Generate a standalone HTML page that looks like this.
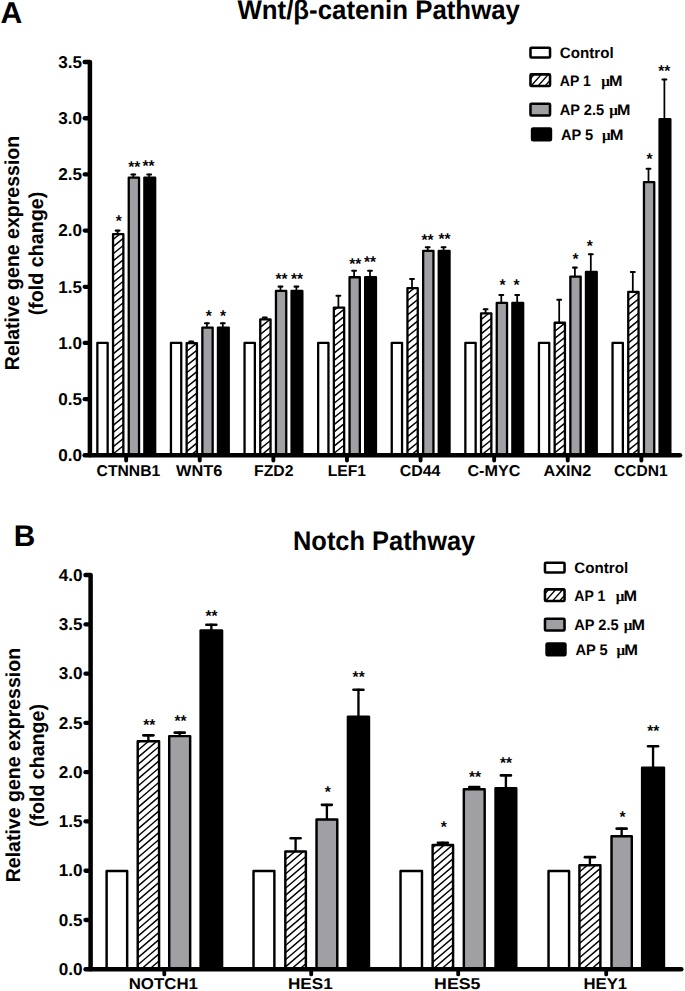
<!DOCTYPE html>
<html><head><meta charset="utf-8"><title>Figure</title>
<style>
html,body{margin:0;padding:0;background:#fff;}
body{width:685px;height:991px;overflow:hidden;font-family:"Liberation Sans",sans-serif;}
svg{display:block;}
text{text-rendering:geometricPrecision;}
.b{font-family:"Liberation Sans",sans-serif;font-weight:bold;fill:#000;}
.s{font-family:"Liberation Serif",serif;font-weight:bold;fill:#000;}
</style></head><body>
<svg width="685" height="991" viewBox="0 0 685 991">
<rect width="685" height="991" fill="#fff"/>

<g id="panelA">
<rect x="97.35" y="342.85" width="10.30" height="112.45" fill="#fff" stroke="#000" stroke-width="2.3" stroke-linejoin="round"/>
<path d="M115.68 230.62H119.53" stroke="#000" stroke-width="2.05" stroke-linecap="round" fill="none"/>
<rect x="116.73" y="229.90" width="1.75" height="4.40" fill="#000"/>
<rect x="113.05" y="234.15" width="10.30" height="221.15" fill="#fff" stroke="none"/>
<clipPath id="hc1"><rect x="113.05" y="234.15" width="10.30" height="221.15"/></clipPath>
<path d="M111.05 226.85L125.35 215.23M111.05 234.00L125.35 222.38M111.05 241.15L125.35 229.53M111.05 248.30L125.35 236.68M111.05 255.45L125.35 243.83M111.05 262.60L125.35 250.98M111.05 269.75L125.35 258.13M111.05 276.90L125.35 265.28M111.05 284.05L125.35 272.43M111.05 291.20L125.35 279.58M111.05 298.35L125.35 286.73M111.05 305.50L125.35 293.88M111.05 312.65L125.35 301.03M111.05 319.80L125.35 308.18M111.05 326.95L125.35 315.33M111.05 334.10L125.35 322.48M111.05 341.25L125.35 329.63M111.05 348.40L125.35 336.78M111.05 355.55L125.35 343.93M111.05 362.70L125.35 351.08M111.05 369.85L125.35 358.23M111.05 377.00L125.35 365.38M111.05 384.15L125.35 372.53M111.05 391.30L125.35 379.68M111.05 398.45L125.35 386.83M111.05 405.60L125.35 393.98M111.05 412.75L125.35 401.13M111.05 419.90L125.35 408.28M111.05 427.05L125.35 415.43M111.05 434.20L125.35 422.58M111.05 441.35L125.35 429.73M111.05 448.50L125.35 436.88M111.05 455.65L125.35 444.03M111.05 462.80L125.35 451.18M111.05 469.95L125.35 458.33M111.05 477.10L125.35 465.48" stroke="#000" stroke-width="1.45" fill="none" clip-path="url(#hc1)"/>
<rect x="113.05" y="234.15" width="10.30" height="221.15" fill="none" stroke="#000" stroke-width="2.3" stroke-linejoin="round"/>
<path d="M131.38 174.43H135.22" stroke="#000" stroke-width="2.05" stroke-linecap="round" fill="none"/>
<rect x="132.43" y="173.70" width="1.75" height="4.00" fill="#000"/>
<rect x="128.75" y="177.55" width="10.30" height="277.75" fill="#a09fa3" stroke="#000" stroke-width="2.3" stroke-linejoin="round"/>
<path d="M147.28 174.43H151.12" stroke="#000" stroke-width="2.05" stroke-linecap="round" fill="none"/>
<rect x="148.33" y="173.70" width="1.75" height="4.00" fill="#000"/>
<rect x="144.35" y="177.55" width="10.81" height="277.75" fill="#000" stroke="#000" stroke-width="2.3" stroke-linejoin="round"/>
<text x="118.80" y="226.00" font-size="15.5" text-anchor="middle" class="b">*</text>
<text x="134.35" y="172.00" font-size="15.5" text-anchor="middle" class="b">**</text>
<text x="148.60" y="171.20" font-size="15.5" text-anchor="middle" class="b">**</text>
<rect x="170.95" y="342.85" width="10.30" height="112.45" fill="#fff" stroke="#000" stroke-width="2.3" stroke-linejoin="round"/>
<path d="M189.28 341.52H193.12" stroke="#000" stroke-width="2.05" stroke-linecap="round" fill="none"/>
<rect x="190.33" y="340.80" width="1.75" height="2.50" fill="#000"/>
<rect x="186.65" y="343.15" width="10.30" height="112.15" fill="#fff" stroke="none"/>
<clipPath id="hc2"><rect x="186.65" y="343.15" width="10.30" height="112.15"/></clipPath>
<path d="M184.65 331.53L198.95 319.91M184.65 338.68L198.95 327.06M184.65 345.83L198.95 334.21M184.65 352.98L198.95 341.36M184.65 360.13L198.95 348.51M184.65 367.28L198.95 355.66M184.65 374.43L198.95 362.81M184.65 381.58L198.95 369.96M184.65 388.73L198.95 377.11M184.65 395.88L198.95 384.26M184.65 403.03L198.95 391.41M184.65 410.18L198.95 398.56M184.65 417.33L198.95 405.71M184.65 424.48L198.95 412.86M184.65 431.63L198.95 420.01M184.65 438.78L198.95 427.16M184.65 445.93L198.95 434.31M184.65 453.08L198.95 441.46M184.65 460.23L198.95 448.61M184.65 467.38L198.95 455.76M184.65 474.53L198.95 462.91" stroke="#000" stroke-width="1.45" fill="none" clip-path="url(#hc2)"/>
<rect x="186.65" y="343.15" width="10.30" height="112.15" fill="none" stroke="#000" stroke-width="2.3" stroke-linejoin="round"/>
<path d="M204.98 323.22H208.83" stroke="#000" stroke-width="2.05" stroke-linecap="round" fill="none"/>
<rect x="206.03" y="322.50" width="1.75" height="5.20" fill="#000"/>
<rect x="202.35" y="327.55" width="10.30" height="127.75" fill="#a09fa3" stroke="#000" stroke-width="2.3" stroke-linejoin="round"/>
<path d="M220.88 323.22H224.73" stroke="#000" stroke-width="2.05" stroke-linecap="round" fill="none"/>
<rect x="221.93" y="322.50" width="1.75" height="5.20" fill="#000"/>
<rect x="217.95" y="327.55" width="10.81" height="127.75" fill="#000" stroke="#000" stroke-width="2.3" stroke-linejoin="round"/>
<text x="208.65" y="321.00" font-size="15.5" text-anchor="middle" class="b">*</text>
<text x="222.90" y="321.00" font-size="15.5" text-anchor="middle" class="b">*</text>
<rect x="244.55" y="342.85" width="10.30" height="112.45" fill="#fff" stroke="#000" stroke-width="2.3" stroke-linejoin="round"/>
<path d="M262.87 317.62H266.72" stroke="#000" stroke-width="2.05" stroke-linecap="round" fill="none"/>
<rect x="263.92" y="316.90" width="1.75" height="2.70" fill="#000"/>
<rect x="260.25" y="319.45" width="10.30" height="135.85" fill="#fff" stroke="none"/>
<clipPath id="hc3"><rect x="260.25" y="319.45" width="10.30" height="135.85"/></clipPath>
<path d="M258.25 307.50L272.55 295.89M258.25 314.65L272.55 303.04M258.25 321.80L272.55 310.19M258.25 328.95L272.55 317.34M258.25 336.10L272.55 324.49M258.25 343.25L272.55 331.64M258.25 350.40L272.55 338.79M258.25 357.55L272.55 345.94M258.25 364.70L272.55 353.09M258.25 371.85L272.55 360.24M258.25 379.00L272.55 367.39M258.25 386.15L272.55 374.54M258.25 393.30L272.55 381.69M258.25 400.45L272.55 388.84M258.25 407.60L272.55 395.99M258.25 414.75L272.55 403.14M258.25 421.90L272.55 410.29M258.25 429.05L272.55 417.44M258.25 436.20L272.55 424.59M258.25 443.35L272.55 431.74M258.25 450.50L272.55 438.89M258.25 457.65L272.55 446.04M258.25 464.80L272.55 453.19M258.25 471.95L272.55 460.34M258.25 479.10L272.55 467.49" stroke="#000" stroke-width="1.45" fill="none" clip-path="url(#hc3)"/>
<rect x="260.25" y="319.45" width="10.30" height="135.85" fill="none" stroke="#000" stroke-width="2.3" stroke-linejoin="round"/>
<path d="M278.57 286.62H282.42" stroke="#000" stroke-width="2.05" stroke-linecap="round" fill="none"/>
<rect x="279.62" y="285.90" width="1.75" height="5.20" fill="#000"/>
<rect x="275.95" y="290.95" width="10.30" height="164.35" fill="#a09fa3" stroke="#000" stroke-width="2.3" stroke-linejoin="round"/>
<path d="M294.47 286.62H298.32" stroke="#000" stroke-width="2.05" stroke-linecap="round" fill="none"/>
<rect x="295.52" y="285.90" width="1.75" height="5.20" fill="#000"/>
<rect x="291.55" y="290.95" width="10.81" height="164.35" fill="#000" stroke="#000" stroke-width="2.3" stroke-linejoin="round"/>
<text x="281.50" y="283.90" font-size="15.5" text-anchor="middle" class="b">**</text>
<text x="297.05" y="283.90" font-size="15.5" text-anchor="middle" class="b">**</text>
<rect x="318.15" y="342.85" width="10.30" height="112.45" fill="#fff" stroke="#000" stroke-width="2.3" stroke-linejoin="round"/>
<path d="M336.47 295.82H340.32" stroke="#000" stroke-width="2.05" stroke-linecap="round" fill="none"/>
<rect x="337.52" y="295.10" width="1.75" height="12.60" fill="#000"/>
<rect x="333.85" y="307.55" width="10.30" height="147.75" fill="#fff" stroke="none"/>
<clipPath id="hc4"><rect x="333.85" y="307.55" width="10.30" height="147.75"/></clipPath>
<path d="M331.85 297.78L346.15 286.17M331.85 304.93L346.15 293.32M331.85 312.08L346.15 300.47M331.85 319.23L346.15 307.62M331.85 326.38L346.15 314.77M331.85 333.53L346.15 321.92M331.85 340.68L346.15 329.07M331.85 347.83L346.15 336.22M331.85 354.98L346.15 343.37M331.85 362.13L346.15 350.52M331.85 369.28L346.15 357.67M331.85 376.43L346.15 364.82M331.85 383.58L346.15 371.97M331.85 390.73L346.15 379.12M331.85 397.88L346.15 386.27M331.85 405.03L346.15 393.42M331.85 412.18L346.15 400.57M331.85 419.33L346.15 407.72M331.85 426.48L346.15 414.87M331.85 433.63L346.15 422.02M331.85 440.78L346.15 429.17M331.85 447.93L346.15 436.32M331.85 455.08L346.15 443.47M331.85 462.23L346.15 450.62M331.85 469.38L346.15 457.77M331.85 476.53L346.15 464.92" stroke="#000" stroke-width="1.45" fill="none" clip-path="url(#hc4)"/>
<rect x="333.85" y="307.55" width="10.30" height="147.75" fill="none" stroke="#000" stroke-width="2.3" stroke-linejoin="round"/>
<path d="M352.17 270.82H356.02" stroke="#000" stroke-width="2.05" stroke-linecap="round" fill="none"/>
<rect x="353.22" y="270.10" width="1.75" height="7.30" fill="#000"/>
<rect x="349.55" y="277.25" width="10.30" height="178.05" fill="#a09fa3" stroke="#000" stroke-width="2.3" stroke-linejoin="round"/>
<path d="M368.07 270.82H371.93" stroke="#000" stroke-width="2.05" stroke-linecap="round" fill="none"/>
<rect x="369.12" y="270.10" width="1.75" height="7.30" fill="#000"/>
<rect x="365.15" y="277.25" width="10.81" height="178.05" fill="#000" stroke="#000" stroke-width="2.3" stroke-linejoin="round"/>
<text x="355.20" y="268.60" font-size="15.5" text-anchor="middle" class="b">**</text>
<text x="370.10" y="267.40" font-size="15.5" text-anchor="middle" class="b">**</text>
<rect x="391.75" y="342.85" width="10.30" height="112.45" fill="#fff" stroke="#000" stroke-width="2.3" stroke-linejoin="round"/>
<path d="M410.07 279.02H413.92" stroke="#000" stroke-width="2.05" stroke-linecap="round" fill="none"/>
<rect x="411.12" y="278.30" width="1.75" height="10.00" fill="#000"/>
<rect x="407.45" y="288.15" width="10.30" height="167.15" fill="#fff" stroke="none"/>
<clipPath id="hc5"><rect x="407.45" y="288.15" width="10.30" height="167.15"/></clipPath>
<path d="M405.45 280.91L419.75 269.30M405.45 288.06L419.75 276.45M405.45 295.21L419.75 283.60M405.45 302.36L419.75 290.75M405.45 309.51L419.75 297.90M405.45 316.66L419.75 305.05M405.45 323.81L419.75 312.20M405.45 330.96L419.75 319.35M405.45 338.11L419.75 326.50M405.45 345.26L419.75 333.65M405.45 352.41L419.75 340.80M405.45 359.56L419.75 347.95M405.45 366.71L419.75 355.10M405.45 373.86L419.75 362.25M405.45 381.01L419.75 369.40M405.45 388.16L419.75 376.55M405.45 395.31L419.75 383.70M405.45 402.46L419.75 390.85M405.45 409.61L419.75 398.00M405.45 416.76L419.75 405.15M405.45 423.91L419.75 412.30M405.45 431.06L419.75 419.45M405.45 438.21L419.75 426.60M405.45 445.36L419.75 433.75M405.45 452.51L419.75 440.90M405.45 459.66L419.75 448.05M405.45 466.81L419.75 455.20M405.45 473.96L419.75 462.35" stroke="#000" stroke-width="1.45" fill="none" clip-path="url(#hc5)"/>
<rect x="407.45" y="288.15" width="10.30" height="167.15" fill="none" stroke="#000" stroke-width="2.3" stroke-linejoin="round"/>
<path d="M425.77 247.22H429.62" stroke="#000" stroke-width="2.05" stroke-linecap="round" fill="none"/>
<rect x="426.82" y="246.50" width="1.75" height="4.50" fill="#000"/>
<rect x="423.15" y="250.85" width="10.30" height="204.45" fill="#a09fa3" stroke="#000" stroke-width="2.3" stroke-linejoin="round"/>
<path d="M441.67 247.22H445.52" stroke="#000" stroke-width="2.05" stroke-linecap="round" fill="none"/>
<rect x="442.72" y="246.50" width="1.75" height="4.50" fill="#000"/>
<rect x="438.75" y="250.85" width="10.81" height="204.45" fill="#000" stroke="#000" stroke-width="2.3" stroke-linejoin="round"/>
<text x="427.50" y="244.50" font-size="15.5" text-anchor="middle" class="b">**</text>
<text x="444.60" y="243.50" font-size="15.5" text-anchor="middle" class="b">**</text>
<rect x="465.35" y="342.85" width="10.30" height="112.45" fill="#fff" stroke="#000" stroke-width="2.3" stroke-linejoin="round"/>
<path d="M483.67 309.32H487.52" stroke="#000" stroke-width="2.05" stroke-linecap="round" fill="none"/>
<rect x="484.72" y="308.60" width="1.75" height="5.00" fill="#000"/>
<rect x="481.05" y="313.45" width="10.30" height="141.85" fill="#fff" stroke="none"/>
<clipPath id="hc6"><rect x="481.05" y="313.45" width="10.30" height="141.85"/></clipPath>
<path d="M479.05 306.94L493.35 295.33M479.05 314.09L493.35 302.48M479.05 321.24L493.35 309.63M479.05 328.39L493.35 316.78M479.05 335.54L493.35 323.93M479.05 342.69L493.35 331.08M479.05 349.84L493.35 338.23M479.05 356.99L493.35 345.38M479.05 364.14L493.35 352.53M479.05 371.29L493.35 359.68M479.05 378.44L493.35 366.83M479.05 385.59L493.35 373.98M479.05 392.74L493.35 381.13M479.05 399.89L493.35 388.28M479.05 407.04L493.35 395.43M479.05 414.19L493.35 402.58M479.05 421.34L493.35 409.73M479.05 428.49L493.35 416.88M479.05 435.64L493.35 424.03M479.05 442.79L493.35 431.18M479.05 449.94L493.35 438.33M479.05 457.09L493.35 445.48M479.05 464.24L493.35 452.63M479.05 471.39L493.35 459.78M479.05 478.54L493.35 466.93" stroke="#000" stroke-width="1.45" fill="none" clip-path="url(#hc6)"/>
<rect x="481.05" y="313.45" width="10.30" height="141.85" fill="none" stroke="#000" stroke-width="2.3" stroke-linejoin="round"/>
<path d="M499.37 295.02H503.22" stroke="#000" stroke-width="2.05" stroke-linecap="round" fill="none"/>
<rect x="500.42" y="294.30" width="1.75" height="8.80" fill="#000"/>
<rect x="496.75" y="302.95" width="10.30" height="152.35" fill="#a09fa3" stroke="#000" stroke-width="2.3" stroke-linejoin="round"/>
<path d="M515.27 295.02H519.12" stroke="#000" stroke-width="2.05" stroke-linecap="round" fill="none"/>
<rect x="516.32" y="294.30" width="1.75" height="8.80" fill="#000"/>
<rect x="512.35" y="302.95" width="10.81" height="152.35" fill="#000" stroke="#000" stroke-width="2.3" stroke-linejoin="round"/>
<text x="502.40" y="289.60" font-size="15.5" text-anchor="middle" class="b">*</text>
<text x="516.45" y="289.60" font-size="15.5" text-anchor="middle" class="b">*</text>
<rect x="538.95" y="342.85" width="10.30" height="112.45" fill="#fff" stroke="#000" stroke-width="2.3" stroke-linejoin="round"/>
<path d="M557.27 299.72H561.12" stroke="#000" stroke-width="2.05" stroke-linecap="round" fill="none"/>
<rect x="558.32" y="299.00" width="1.75" height="23.90" fill="#000"/>
<rect x="554.65" y="322.75" width="10.30" height="132.55" fill="#fff" stroke="none"/>
<clipPath id="hc7"><rect x="554.65" y="322.75" width="10.30" height="132.55"/></clipPath>
<path d="M552.65 311.52L566.95 299.91M552.65 318.67L566.95 307.06M552.65 325.82L566.95 314.21M552.65 332.97L566.95 321.36M552.65 340.12L566.95 328.51M552.65 347.27L566.95 335.66M552.65 354.42L566.95 342.81M552.65 361.57L566.95 349.96M552.65 368.72L566.95 357.11M552.65 375.87L566.95 364.26M552.65 383.02L566.95 371.41M552.65 390.17L566.95 378.56M552.65 397.32L566.95 385.71M552.65 404.47L566.95 392.86M552.65 411.62L566.95 400.01M552.65 418.77L566.95 407.16M552.65 425.92L566.95 414.31M552.65 433.07L566.95 421.46M552.65 440.22L566.95 428.61M552.65 447.37L566.95 435.76M552.65 454.52L566.95 442.91M552.65 461.67L566.95 450.06M552.65 468.82L566.95 457.21M552.65 475.97L566.95 464.36" stroke="#000" stroke-width="1.45" fill="none" clip-path="url(#hc7)"/>
<rect x="554.65" y="322.75" width="10.30" height="132.55" fill="none" stroke="#000" stroke-width="2.3" stroke-linejoin="round"/>
<path d="M572.97 267.62H576.82" stroke="#000" stroke-width="2.05" stroke-linecap="round" fill="none"/>
<rect x="574.02" y="266.90" width="1.75" height="9.80" fill="#000"/>
<rect x="570.35" y="276.55" width="10.30" height="178.75" fill="#a09fa3" stroke="#000" stroke-width="2.3" stroke-linejoin="round"/>
<path d="M588.87 254.22H592.72" stroke="#000" stroke-width="2.05" stroke-linecap="round" fill="none"/>
<rect x="589.92" y="253.50" width="1.75" height="18.60" fill="#000"/>
<rect x="585.95" y="271.95" width="10.81" height="183.35" fill="#000" stroke="#000" stroke-width="2.3" stroke-linejoin="round"/>
<text x="575.50" y="264.30" font-size="15.5" text-anchor="middle" class="b">*</text>
<text x="589.70" y="251.00" font-size="15.5" text-anchor="middle" class="b">*</text>
<rect x="612.55" y="342.85" width="10.30" height="112.45" fill="#fff" stroke="#000" stroke-width="2.3" stroke-linejoin="round"/>
<path d="M630.87 271.92H634.73" stroke="#000" stroke-width="2.05" stroke-linecap="round" fill="none"/>
<rect x="631.92" y="271.20" width="1.75" height="20.90" fill="#000"/>
<rect x="628.25" y="291.95" width="10.30" height="163.35" fill="#fff" stroke="none"/>
<clipPath id="hc8"><rect x="628.25" y="291.95" width="10.30" height="163.35"/></clipPath>
<path d="M626.25 280.35L640.55 268.74M626.25 287.50L640.55 275.89M626.25 294.65L640.55 283.04M626.25 301.80L640.55 290.19M626.25 308.95L640.55 297.34M626.25 316.10L640.55 304.49M626.25 323.25L640.55 311.64M626.25 330.40L640.55 318.79M626.25 337.55L640.55 325.94M626.25 344.70L640.55 333.09M626.25 351.85L640.55 340.24M626.25 359.00L640.55 347.39M626.25 366.15L640.55 354.54M626.25 373.30L640.55 361.69M626.25 380.45L640.55 368.84M626.25 387.60L640.55 375.99M626.25 394.75L640.55 383.14M626.25 401.90L640.55 390.29M626.25 409.05L640.55 397.44M626.25 416.20L640.55 404.59M626.25 423.35L640.55 411.74M626.25 430.50L640.55 418.89M626.25 437.65L640.55 426.04M626.25 444.80L640.55 433.19M626.25 451.95L640.55 440.34M626.25 459.10L640.55 447.49M626.25 466.25L640.55 454.64M626.25 473.40L640.55 461.79" stroke="#000" stroke-width="1.45" fill="none" clip-path="url(#hc8)"/>
<rect x="628.25" y="291.95" width="10.30" height="163.35" fill="none" stroke="#000" stroke-width="2.3" stroke-linejoin="round"/>
<path d="M646.57 168.72H650.42" stroke="#000" stroke-width="2.05" stroke-linecap="round" fill="none"/>
<rect x="647.62" y="168.00" width="1.75" height="14.30" fill="#000"/>
<rect x="643.95" y="182.15" width="10.30" height="273.15" fill="#a09fa3" stroke="#000" stroke-width="2.3" stroke-linejoin="round"/>
<path d="M662.47 79.43H666.32" stroke="#000" stroke-width="2.05" stroke-linecap="round" fill="none"/>
<rect x="663.52" y="78.70" width="1.75" height="40.70" fill="#000"/>
<rect x="659.55" y="119.25" width="10.81" height="336.05" fill="#000" stroke="#000" stroke-width="2.3" stroke-linejoin="round"/>
<text x="649.50" y="163.80" font-size="15.5" text-anchor="middle" class="b">*</text>
<text x="664.25" y="75.50" font-size="15.5" text-anchor="middle" class="b">**</text>
<path d="M84.7 62.10H89.90V455.30" stroke="#000" stroke-width="4.5" stroke-linecap="round" stroke-linejoin="round" fill="none"/>
<path d="M84.70 455.30L680.00 455.30" stroke="#000" stroke-width="4.5" stroke-linecap="round" fill="none"/>
<text x="81.90" y="461.10" font-size="17.1" text-anchor="end" class="b">0.0</text>
<path d="M84.70 399.13L87.70 399.13" stroke="#000" stroke-width="4.3" stroke-linecap="round" fill="none"/>
<text x="81.90" y="404.93" font-size="17.1" text-anchor="end" class="b">0.5</text>
<path d="M84.70 342.96L87.70 342.96" stroke="#000" stroke-width="4.3" stroke-linecap="round" fill="none"/>
<text x="81.90" y="348.76" font-size="17.1" text-anchor="end" class="b">1.0</text>
<path d="M84.70 286.79L87.70 286.79" stroke="#000" stroke-width="4.3" stroke-linecap="round" fill="none"/>
<text x="81.90" y="292.59" font-size="17.1" text-anchor="end" class="b">1.5</text>
<path d="M84.70 230.61L87.70 230.61" stroke="#000" stroke-width="4.3" stroke-linecap="round" fill="none"/>
<text x="81.90" y="236.41" font-size="17.1" text-anchor="end" class="b">2.0</text>
<path d="M84.70 174.44L87.70 174.44" stroke="#000" stroke-width="4.3" stroke-linecap="round" fill="none"/>
<text x="81.90" y="180.24" font-size="17.1" text-anchor="end" class="b">2.5</text>
<path d="M84.70 118.27L87.70 118.27" stroke="#000" stroke-width="4.3" stroke-linecap="round" fill="none"/>
<text x="81.90" y="124.07" font-size="17.1" text-anchor="end" class="b">3.0</text>
<text x="81.90" y="67.90" font-size="17.1" text-anchor="end" class="b">3.5</text>
<path d="M126.15 455.30V460.60" stroke="#000" stroke-width="3.9" stroke-linecap="round" fill="none"/>
<text x="96.60" y="475.50" font-size="15.6" text-anchor="start" class="b" textLength="63.70" lengthAdjust="spacingAndGlyphs">CTNNB1</text>
<path d="M199.75 455.30V460.60" stroke="#000" stroke-width="3.9" stroke-linecap="round" fill="none"/>
<text x="176.10" y="475.50" font-size="15.6" text-anchor="start" class="b" textLength="46.20" lengthAdjust="spacingAndGlyphs">WNT6</text>
<path d="M273.35 455.30V460.60" stroke="#000" stroke-width="3.9" stroke-linecap="round" fill="none"/>
<text x="254.10" y="475.50" font-size="15.6" text-anchor="start" class="b" textLength="39.40" lengthAdjust="spacingAndGlyphs">FZD2</text>
<path d="M346.95 455.30V460.60" stroke="#000" stroke-width="3.9" stroke-linecap="round" fill="none"/>
<text x="327.70" y="475.50" font-size="15.6" text-anchor="start" class="b" textLength="38.20" lengthAdjust="spacingAndGlyphs">LEF1</text>
<path d="M420.55 455.30V460.60" stroke="#000" stroke-width="3.9" stroke-linecap="round" fill="none"/>
<text x="399.70" y="475.50" font-size="15.6" text-anchor="start" class="b" textLength="40.80" lengthAdjust="spacingAndGlyphs">CD44</text>
<path d="M494.15 455.30V460.60" stroke="#000" stroke-width="3.9" stroke-linecap="round" fill="none"/>
<text x="467.40" y="475.50" font-size="15.6" text-anchor="start" class="b" textLength="53.00" lengthAdjust="spacingAndGlyphs">C-MYC</text>
<path d="M567.75 455.30V460.60" stroke="#000" stroke-width="3.9" stroke-linecap="round" fill="none"/>
<text x="543.50" y="475.50" font-size="15.6" text-anchor="start" class="b" textLength="47.80" lengthAdjust="spacingAndGlyphs">AXIN2</text>
<path d="M641.35 455.30V460.60" stroke="#000" stroke-width="3.9" stroke-linecap="round" fill="none"/>
<text x="614.10" y="475.50" font-size="15.6" text-anchor="start" class="b" textLength="53.60" lengthAdjust="spacingAndGlyphs">CCDN1</text>
<text x="0.60" y="23.30" font-size="30.2" text-anchor="start" class="b">A</text>
<text x="237.50" y="19.40" font-size="27" text-anchor="start" class="b" textLength="282.40" lengthAdjust="spacingAndGlyphs">Wnt/β-catenin Pathway</text>
<text transform="translate(19.20,370.20) rotate(-90)" font-size="20.2" class="b" textLength="234.40" lengthAdjust="spacingAndGlyphs">Relative gene expression</text>
<text transform="translate(43.40,315.30) rotate(-90)" font-size="20.2" class="b" textLength="123.60" lengthAdjust="spacingAndGlyphs">(fold change)</text>
</g>
<rect x="530.48" y="47.77" width="19.55" height="9.65" rx="1" fill="#fff" stroke="#000" stroke-width="2.55" stroke-linejoin="round"/>
<rect x="530.48" y="74.38" width="19.55" height="11.55" fill="#fff"/>
<clipPath id="hc9"><rect x="530.48" y="74.38" width="19.55" height="11.55"/></clipPath>
<path d="M528.48 65.30L552.02 38.92M528.48 73.15L552.02 46.77M528.48 81.00L552.02 54.62M528.48 88.85L552.02 62.47M528.48 96.70L552.02 70.32M528.48 104.55L552.02 78.17M528.48 112.40L552.02 86.02M528.48 120.25L552.02 93.87" stroke="#000" stroke-width="1.35" fill="none" clip-path="url(#hc9)"/>
<rect x="530.48" y="74.38" width="19.55" height="11.55" rx="1" fill="none" stroke="#000" stroke-width="2.55" stroke-linejoin="round"/>
<rect x="530.48" y="103.68" width="19.55" height="11.85" rx="1" fill="#a09fa3" stroke="#000" stroke-width="2.55" stroke-linejoin="round"/>
<rect x="532.08" y="128.47" width="18.85" height="11.85" rx="1" fill="#000" stroke="#000" stroke-width="2.55" stroke-linejoin="round"/>
<text x="559.80" y="57.80" font-size="15.2" text-anchor="start" class="b" textLength="53.80" lengthAdjust="spacingAndGlyphs">Control</text>
<text x="559.80" y="85.60" font-size="15.2" text-anchor="start" class="b" textLength="31.00" lengthAdjust="spacingAndGlyphs">AP 1</text>
<text x="601.20" y="85.60" font-size="15.2" class="s">μ</text>
<text x="609.10" y="85.60" font-size="15.2" text-anchor="start" class="b" textLength="13.50" lengthAdjust="spacingAndGlyphs">M</text>
<text x="559.80" y="115.20" font-size="15.2" text-anchor="start" class="b" textLength="44.30" lengthAdjust="spacingAndGlyphs">AP 2.5</text>
<text x="609.20" y="115.20" font-size="15.2" class="s">μ</text>
<text x="617.10" y="115.20" font-size="15.2" text-anchor="start" class="b" textLength="13.40" lengthAdjust="spacingAndGlyphs">M</text>
<text x="560.90" y="139.60" font-size="15.2" text-anchor="start" class="b" textLength="32.30" lengthAdjust="spacingAndGlyphs">AP 5</text>
<text x="602.10" y="139.60" font-size="15.2" class="s">μ</text>
<text x="609.80" y="139.60" font-size="15.2" text-anchor="start" class="b" textLength="13.70" lengthAdjust="spacingAndGlyphs">M</text>
<g id="panelB">
<rect x="106.62" y="870.93" width="20.55" height="98.37" fill="#fff" stroke="#000" stroke-width="2.45" stroke-linejoin="round"/>
<path d="M143.45 735.35H153.35" stroke="#000" stroke-width="2.7" stroke-linecap="round" fill="none"/>
<rect x="147.22" y="734.30" width="2.35" height="7.10" fill="#000"/>
<rect x="137.72" y="741.33" width="21.35" height="227.97" fill="#fff" stroke="none"/>
<clipPath id="hc10"><rect x="137.72" y="741.33" width="21.35" height="227.97"/></clipPath>
<path d="M135.72 730.74L161.08 708.99M135.72 737.89L161.08 716.14M135.72 745.04L161.08 723.29M135.72 752.19L161.08 730.44M135.72 759.34L161.08 737.59M135.72 766.49L161.08 744.74M135.72 773.64L161.08 751.89M135.72 780.79L161.08 759.04M135.72 787.94L161.08 766.19M135.72 795.09L161.08 773.34M135.72 802.24L161.08 780.49M135.72 809.39L161.08 787.64M135.72 816.54L161.08 794.79M135.72 823.69L161.08 801.94M135.72 830.84L161.08 809.09M135.72 837.99L161.08 816.24M135.72 845.14L161.08 823.39M135.72 852.29L161.08 830.54M135.72 859.44L161.08 837.69M135.72 866.59L161.08 844.84M135.72 873.74L161.08 851.99M135.72 880.89L161.08 859.14M135.72 888.04L161.08 866.29M135.72 895.19L161.08 873.44M135.72 902.34L161.08 880.59M135.72 909.49L161.08 887.74M135.72 916.64L161.08 894.89M135.72 923.79L161.08 902.04M135.72 930.94L161.08 909.19M135.72 938.09L161.08 916.34M135.72 945.24L161.08 923.49M135.72 952.39L161.08 930.64M135.72 959.54L161.08 937.79M135.72 966.69L161.08 944.94M135.72 973.84L161.08 952.09M135.72 980.99L161.08 959.24M135.72 988.14L161.08 966.39M135.72 995.29L161.08 973.54M135.72 1002.44L161.08 980.69" stroke="#000" stroke-width="1.45" fill="none" clip-path="url(#hc10)"/>
<rect x="137.72" y="741.33" width="21.35" height="227.97" fill="none" stroke="#000" stroke-width="2.45" stroke-linejoin="round"/>
<path d="M174.75 732.65H184.65" stroke="#000" stroke-width="2.7" stroke-linecap="round" fill="none"/>
<rect x="178.52" y="731.60" width="2.35" height="4.60" fill="#000"/>
<rect x="169.22" y="736.12" width="20.95" height="233.17" fill="#a09fa3" stroke="#000" stroke-width="2.45" stroke-linejoin="round"/>
<path d="M206.40 624.75H216.30" stroke="#000" stroke-width="2.7" stroke-linecap="round" fill="none"/>
<rect x="210.18" y="623.70" width="2.35" height="6.80" fill="#000"/>
<rect x="200.62" y="630.43" width="21.45" height="338.87" fill="#000" stroke="#000" stroke-width="2.45" stroke-linejoin="round"/>
<text x="149.20" y="729.60" font-size="15.5" text-anchor="middle" class="b">**</text>
<text x="180.50" y="726.00" font-size="15.5" text-anchor="middle" class="b">**</text>
<text x="211.55" y="620.50" font-size="15.5" text-anchor="middle" class="b">**</text>
<rect x="253.52" y="870.93" width="20.85" height="98.37" fill="#fff" stroke="#000" stroke-width="2.45" stroke-linejoin="round"/>
<path d="M290.65 838.25H300.55" stroke="#000" stroke-width="2.7" stroke-linecap="round" fill="none"/>
<rect x="294.43" y="837.20" width="2.35" height="14.30" fill="#000"/>
<rect x="285.33" y="851.43" width="20.55" height="117.87" fill="#fff" stroke="none"/>
<clipPath id="hc11"><rect x="285.33" y="851.43" width="20.55" height="117.87"/></clipPath>
<path d="M283.33 840.05L307.88 818.98M283.33 847.20L307.88 826.13M283.33 854.35L307.88 833.28M283.33 861.50L307.88 840.43M283.33 868.65L307.88 847.58M283.33 875.80L307.88 854.73M283.33 882.95L307.88 861.88M283.33 890.10L307.88 869.03M283.33 897.25L307.88 876.18M283.33 904.40L307.88 883.33M283.33 911.55L307.88 890.48M283.33 918.70L307.88 897.63M283.33 925.85L307.88 904.78M283.33 933.00L307.88 911.93M283.33 940.15L307.88 919.08M283.33 947.30L307.88 926.23M283.33 954.45L307.88 933.38M283.33 961.60L307.88 940.53M283.33 968.75L307.88 947.68M283.33 975.90L307.88 954.83M283.33 983.05L307.88 961.98M283.33 990.20L307.88 969.13M283.33 997.35L307.88 976.28" stroke="#000" stroke-width="1.45" fill="none" clip-path="url(#hc11)"/>
<rect x="285.33" y="851.43" width="20.55" height="117.87" fill="none" stroke="#000" stroke-width="2.45" stroke-linejoin="round"/>
<path d="M321.95 804.85H331.85" stroke="#000" stroke-width="2.7" stroke-linecap="round" fill="none"/>
<rect x="325.72" y="803.80" width="2.35" height="15.70" fill="#000"/>
<rect x="316.53" y="819.43" width="20.75" height="149.87" fill="#a09fa3" stroke="#000" stroke-width="2.45" stroke-linejoin="round"/>
<path d="M353.50 689.75H363.40" stroke="#000" stroke-width="2.7" stroke-linecap="round" fill="none"/>
<rect x="357.28" y="688.70" width="2.35" height="28.00" fill="#000"/>
<rect x="347.93" y="716.62" width="21.05" height="252.67" fill="#000" stroke="#000" stroke-width="2.45" stroke-linejoin="round"/>
<text x="327.70" y="797.00" font-size="15.5" text-anchor="middle" class="b">*</text>
<text x="358.65" y="681.70" font-size="15.5" text-anchor="middle" class="b">**</text>
<rect x="400.53" y="870.93" width="21.45" height="98.37" fill="#fff" stroke="#000" stroke-width="2.45" stroke-linejoin="round"/>
<path d="M437.90 842.75H447.80" stroke="#000" stroke-width="2.7" stroke-linecap="round" fill="none"/>
<rect x="441.68" y="841.70" width="2.35" height="3.30" fill="#000"/>
<rect x="432.63" y="844.93" width="20.45" height="124.37" fill="#fff" stroke="none"/>
<clipPath id="hc12"><rect x="432.63" y="844.93" width="20.45" height="124.37"/></clipPath>
<path d="M430.63 835.21L455.07 814.24M430.63 842.36L455.07 821.39M430.63 849.51L455.07 828.54M430.63 856.66L455.07 835.69M430.63 863.81L455.07 842.84M430.63 870.96L455.07 849.99M430.63 878.11L455.07 857.14M430.63 885.26L455.07 864.29M430.63 892.41L455.07 871.44M430.63 899.56L455.07 878.59M430.63 906.71L455.07 885.74M430.63 913.86L455.07 892.89M430.63 921.01L455.07 900.04M430.63 928.16L455.07 907.19M430.63 935.31L455.07 914.34M430.63 942.46L455.07 921.49M430.63 949.61L455.07 928.64M430.63 956.76L455.07 935.79M430.63 963.91L455.07 942.94M430.63 971.06L455.07 950.09M430.63 978.21L455.07 957.24M430.63 985.36L455.07 964.39M430.63 992.51L455.07 971.54M430.63 999.66L455.07 978.69" stroke="#000" stroke-width="1.45" fill="none" clip-path="url(#hc12)"/>
<rect x="432.63" y="844.93" width="20.45" height="124.37" fill="none" stroke="#000" stroke-width="2.45" stroke-linejoin="round"/>
<path d="M469.30 787.05H479.20" stroke="#000" stroke-width="2.7" stroke-linecap="round" fill="none"/>
<rect x="473.07" y="786.00" width="2.35" height="3.40" fill="#000"/>
<rect x="463.83" y="789.33" width="20.85" height="179.97" fill="#a09fa3" stroke="#000" stroke-width="2.45" stroke-linejoin="round"/>
<path d="M500.95 775.45H510.85" stroke="#000" stroke-width="2.7" stroke-linecap="round" fill="none"/>
<rect x="504.72" y="774.40" width="2.35" height="14.00" fill="#000"/>
<rect x="495.53" y="788.33" width="20.75" height="180.97" fill="#000" stroke="#000" stroke-width="2.45" stroke-linejoin="round"/>
<text x="443.65" y="832.20" font-size="15.5" text-anchor="middle" class="b">*</text>
<text x="475.05" y="781.70" font-size="15.5" text-anchor="middle" class="b">**</text>
<text x="506.10" y="768.40" font-size="15.5" text-anchor="middle" class="b">**</text>
<rect x="548.53" y="870.93" width="20.55" height="98.37" fill="#fff" stroke="#000" stroke-width="2.45" stroke-linejoin="round"/>
<path d="M584.95 857.15H594.85" stroke="#000" stroke-width="2.7" stroke-linecap="round" fill="none"/>
<rect x="588.73" y="856.10" width="2.35" height="9.20" fill="#000"/>
<rect x="579.43" y="865.23" width="20.95" height="104.07" fill="#fff" stroke="none"/>
<clipPath id="hc13"><rect x="579.43" y="865.23" width="20.95" height="104.07"/></clipPath>
<path d="M577.43 859.41L602.38 838.00M577.43 866.56L602.38 845.15M577.43 873.71L602.38 852.30M577.43 880.86L602.38 859.45M577.43 888.01L602.38 866.60M577.43 895.16L602.38 873.75M577.43 902.31L602.38 880.90M577.43 909.46L602.38 888.05M577.43 916.61L602.38 895.20M577.43 923.76L602.38 902.35M577.43 930.91L602.38 909.50M577.43 938.06L602.38 916.65M577.43 945.21L602.38 923.80M577.43 952.36L602.38 930.95M577.43 959.51L602.38 938.10M577.43 966.66L602.38 945.25M577.43 973.81L602.38 952.40M577.43 980.96L602.38 959.55M577.43 988.11L602.38 966.70M577.43 995.26L602.38 973.85M577.43 1002.41L602.38 981.00" stroke="#000" stroke-width="1.45" fill="none" clip-path="url(#hc13)"/>
<rect x="579.43" y="865.23" width="20.95" height="104.07" fill="none" stroke="#000" stroke-width="2.45" stroke-linejoin="round"/>
<path d="M616.70 828.65H626.60" stroke="#000" stroke-width="2.7" stroke-linecap="round" fill="none"/>
<rect x="620.48" y="827.60" width="2.35" height="8.70" fill="#000"/>
<rect x="611.53" y="836.23" width="20.25" height="133.07" fill="#a09fa3" stroke="#000" stroke-width="2.45" stroke-linejoin="round"/>
<path d="M648.10 746.25H658.00" stroke="#000" stroke-width="2.7" stroke-linecap="round" fill="none"/>
<rect x="651.88" y="745.20" width="2.35" height="22.70" fill="#000"/>
<rect x="642.12" y="767.83" width="21.85" height="201.47" fill="#000" stroke="#000" stroke-width="2.45" stroke-linejoin="round"/>
<text x="622.45" y="821.70" font-size="15.5" text-anchor="middle" class="b">*</text>
<text x="653.25" y="736.40" font-size="15.5" text-anchor="middle" class="b">**</text>
<path d="M85.5 575.10H90.60V969.30" stroke="#000" stroke-width="4.5" stroke-linecap="round" stroke-linejoin="round" fill="none"/>
<path d="M85.60 969.30L681.30 969.30" stroke="#000" stroke-width="4.5" stroke-linecap="round" fill="none"/>
<text x="82.40" y="975.00" font-size="17.1" text-anchor="end" class="b">0.0</text>
<path d="M85.50 920.02L88.40 920.02" stroke="#000" stroke-width="4.3" stroke-linecap="round" fill="none"/>
<text x="82.40" y="925.73" font-size="17.1" text-anchor="end" class="b">0.5</text>
<path d="M85.50 870.75L88.40 870.75" stroke="#000" stroke-width="4.3" stroke-linecap="round" fill="none"/>
<text x="82.40" y="876.45" font-size="17.1" text-anchor="end" class="b">1.0</text>
<path d="M85.50 821.47L88.40 821.47" stroke="#000" stroke-width="4.3" stroke-linecap="round" fill="none"/>
<text x="82.40" y="827.17" font-size="17.1" text-anchor="end" class="b">1.5</text>
<path d="M85.50 772.20L88.40 772.20" stroke="#000" stroke-width="4.3" stroke-linecap="round" fill="none"/>
<text x="82.40" y="777.90" font-size="17.1" text-anchor="end" class="b">2.0</text>
<path d="M85.50 722.92L88.40 722.92" stroke="#000" stroke-width="4.3" stroke-linecap="round" fill="none"/>
<text x="82.40" y="728.62" font-size="17.1" text-anchor="end" class="b">2.5</text>
<path d="M85.50 673.65L88.40 673.65" stroke="#000" stroke-width="4.3" stroke-linecap="round" fill="none"/>
<text x="82.40" y="679.35" font-size="17.1" text-anchor="end" class="b">3.0</text>
<path d="M85.50 624.38L88.40 624.38" stroke="#000" stroke-width="4.3" stroke-linecap="round" fill="none"/>
<text x="82.40" y="630.08" font-size="17.1" text-anchor="end" class="b">3.5</text>
<text x="82.40" y="580.80" font-size="17.1" text-anchor="end" class="b">4.0</text>
<path d="M164.30 969.30V974.40" stroke="#000" stroke-width="3.8" stroke-linecap="round" fill="none"/>
<text x="128.70" y="989.45" font-size="15.6" text-anchor="start" class="b" textLength="69.30" lengthAdjust="spacingAndGlyphs">NOTCH1</text>
<path d="M311.20 969.30V974.40" stroke="#000" stroke-width="3.8" stroke-linecap="round" fill="none"/>
<text x="288.00" y="989.45" font-size="15.6" text-anchor="start" class="b" textLength="44.70" lengthAdjust="spacingAndGlyphs">HES1</text>
<path d="M458.20 969.30V974.40" stroke="#000" stroke-width="3.8" stroke-linecap="round" fill="none"/>
<text x="434.10" y="989.45" font-size="15.6" text-anchor="start" class="b" textLength="46.30" lengthAdjust="spacingAndGlyphs">HES5</text>
<path d="M606.20 969.30V974.40" stroke="#000" stroke-width="3.8" stroke-linecap="round" fill="none"/>
<text x="583.40" y="989.45" font-size="15.6" text-anchor="start" class="b" textLength="43.80" lengthAdjust="spacingAndGlyphs">HEY1</text>
<text x="13.70" y="546.30" font-size="29.8" text-anchor="start" class="b">B</text>
<text x="293.00" y="550.20" font-size="27" text-anchor="start" class="b" textLength="182.20" lengthAdjust="spacingAndGlyphs">Notch Pathway</text>
<text transform="translate(19.90,882.30) rotate(-90)" font-size="20.2" class="b" textLength="234.40" lengthAdjust="spacingAndGlyphs">Relative gene expression</text>
<text transform="translate(44.40,827.00) rotate(-90)" font-size="20.2" class="b" textLength="123.00" lengthAdjust="spacingAndGlyphs">(fold change)</text>
</g>
<rect x="544.98" y="562.77" width="19.55" height="9.65" rx="1" fill="#fff" stroke="#000" stroke-width="2.55" stroke-linejoin="round"/>
<rect x="544.98" y="589.38" width="19.55" height="11.55" fill="#fff"/>
<clipPath id="hc14"><rect x="544.98" y="589.38" width="19.55" height="11.55"/></clipPath>
<path d="M542.98 580.30L566.52 553.92M542.98 588.15L566.52 561.77M542.98 596.00L566.52 569.62M542.98 603.85L566.52 577.47M542.98 611.70L566.52 585.32M542.98 619.55L566.52 593.17M542.98 627.40L566.52 601.02M542.98 635.25L566.52 608.87" stroke="#000" stroke-width="1.35" fill="none" clip-path="url(#hc14)"/>
<rect x="544.98" y="589.38" width="19.55" height="11.55" rx="1" fill="none" stroke="#000" stroke-width="2.55" stroke-linejoin="round"/>
<rect x="544.98" y="618.67" width="19.55" height="11.85" rx="1" fill="#a09fa3" stroke="#000" stroke-width="2.55" stroke-linejoin="round"/>
<rect x="546.58" y="643.48" width="18.85" height="11.85" rx="1" fill="#000" stroke="#000" stroke-width="2.55" stroke-linejoin="round"/>
<text x="574.30" y="572.80" font-size="15.2" text-anchor="start" class="b" textLength="53.80" lengthAdjust="spacingAndGlyphs">Control</text>
<text x="574.30" y="600.60" font-size="15.2" text-anchor="start" class="b" textLength="31.00" lengthAdjust="spacingAndGlyphs">AP 1</text>
<text x="615.70" y="600.60" font-size="15.2" class="s">μ</text>
<text x="623.60" y="600.60" font-size="15.2" text-anchor="start" class="b" textLength="13.50" lengthAdjust="spacingAndGlyphs">M</text>
<text x="574.30" y="630.20" font-size="15.2" text-anchor="start" class="b" textLength="44.30" lengthAdjust="spacingAndGlyphs">AP 2.5</text>
<text x="623.70" y="630.20" font-size="15.2" class="s">μ</text>
<text x="631.60" y="630.20" font-size="15.2" text-anchor="start" class="b" textLength="13.40" lengthAdjust="spacingAndGlyphs">M</text>
<text x="575.40" y="654.60" font-size="15.2" text-anchor="start" class="b" textLength="32.30" lengthAdjust="spacingAndGlyphs">AP 5</text>
<text x="616.60" y="654.60" font-size="15.2" class="s">μ</text>
<text x="624.30" y="654.60" font-size="15.2" text-anchor="start" class="b" textLength="13.70" lengthAdjust="spacingAndGlyphs">M</text>
</svg></body></html>
